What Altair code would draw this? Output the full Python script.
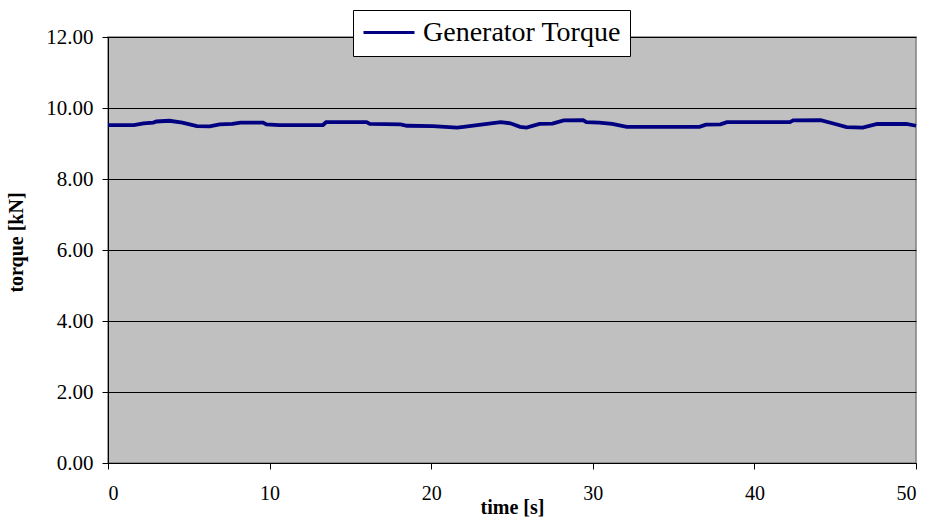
import altair as alt
import pandas as pd

time_s = [0.0, 1.6, 2.2, 2.8, 3.0, 3.8, 4.6, 5.5, 6.3, 6.9, 7.7, 8.2, 9.6, 9.8, 10.6,
          13.3, 13.5, 16.0, 16.2, 18.1, 18.5, 20.1, 21.6, 22.0, 24.3, 24.9, 25.5, 25.9,
          26.7, 27.5, 28.2, 29.4, 29.6, 30.4, 31.2, 32.1, 36.6, 37.0, 37.9, 38.3, 42.2,
          42.4, 44.1, 45.0, 45.7, 46.7, 47.6, 49.4, 50.0]
torque_kn = [9.52, 9.52, 9.57, 9.59, 9.62, 9.64, 9.59, 9.49, 9.48, 9.54, 9.55, 9.59, 9.59, 9.54, 9.52,
             9.52, 9.6, 9.6, 9.55, 9.54, 9.5, 9.49, 9.45, 9.47, 9.6, 9.57, 9.47, 9.45,
             9.55, 9.56, 9.65, 9.66, 9.6, 9.59, 9.55, 9.47, 9.47, 9.53, 9.54, 9.6, 9.6,
             9.65, 9.66, 9.55, 9.46, 9.45, 9.55, 9.55, 9.5]
series = ["Generator Torque"] * len(time_s)

df = pd.DataFrame({"time": time_s, "torque": torque_kn, "series": series})

font = "Liberation Serif"

chart = alt.Chart(df).mark_line(strokeWidth=3.8).encode(
    x=alt.X("time:Q", scale=alt.Scale(domain=[0, 50], nice=False),
            axis=alt.Axis(title="time [s]", values=[0, 10, 20, 30, 40, 50], grid=False,
                          labelFont=font, titleFont=font,
                          labelFontSize=20, titleFontSize=20, titleFontWeight="bold",
                          tickSize=6, labelPadding=14, titlePadding=-6,
                          domainColor="black", tickColor="black", labelColor="black",
                          titleColor="black")),
    y=alt.Y("torque:Q", scale=alt.Scale(domain=[0, 12], nice=False),
            axis=alt.Axis(title="torque [kN]", values=[0, 2, 4, 6, 8, 10, 12], format=".2f",
                          grid=True, gridColor="black", gridOpacity=1, gridWidth=1,
                          labelFont=font, titleFont=font,
                          labelFontSize=21, titleFontSize=20, titleFontWeight="bold",
                          tickSize=6, labelPadding=9, titleX=-82, titleY=205,
                          domainColor="black", tickColor="black", labelColor="black",
                          titleColor="black")),
    color=alt.Color("series:N", scale=alt.Scale(range=["#000080"]),
                    legend=alt.Legend(title=None, orient="none", legendX=245, legendY=-27,
                                      fillColor="white", strokeColor="black", padding=9,
                                      labelFontSize=28, labelFont=font, labelColor="black",
                                      labelLimit=0, clipHeight=27,
                                      symbolType="stroke", symbolSize=2600, symbolStrokeWidth=3,
                                      labelOffset=7)),
).properties(
    width=808, height=426,
    autosize=alt.AutoSizeParams(type="none"),
    padding={"left": 108, "top": 37, "right": 12, "bottom": 54},
    background="white",
).configure(
    font=font
).configure_view(
    fill="#C0C0C0", stroke="#808080", strokeWidth=1.5
)

chart.save("out.html", embed_options={"renderer": "svg", "actions": False})
